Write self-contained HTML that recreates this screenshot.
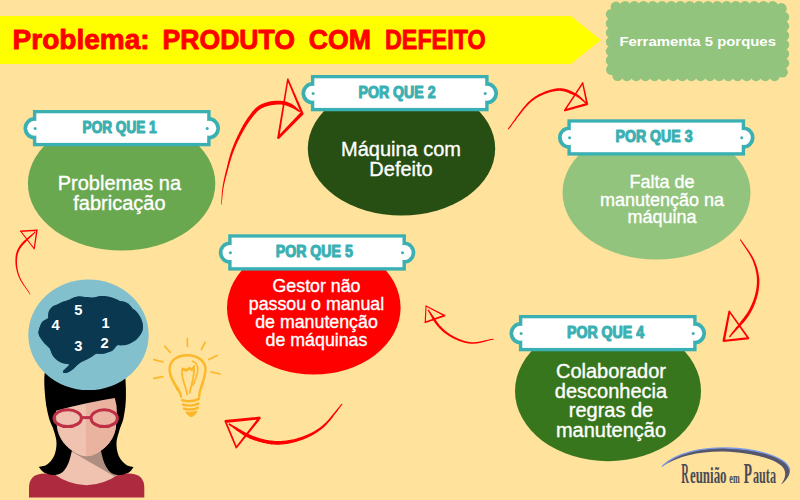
<!DOCTYPE html>
<html lang="pt-BR">
<head>
<meta charset="utf-8">
<title>Ferramenta 5 porques</title>
<style>
html,body{margin:0;padding:0;background:#ffe29b;}
body{width:800px;height:500px;overflow:hidden;position:relative;font-family:"Liberation Sans",sans-serif;}
svg{position:absolute;left:0;top:0;display:block}
.t{font-family:"Liberation Sans",sans-serif;fill:#fff;stroke:#fff;stroke-width:0.35px;text-anchor:middle}
.lab{font-family:"Liberation Sans",sans-serif;font-weight:bold;fill:#3bb0b3;stroke:#3bb0b3;stroke-width:1.1px;stroke-linejoin:round;text-anchor:middle;font-size:16px}
.ttl{font-family:"Liberation Sans",sans-serif;font-weight:bold;fill:#ff0000;stroke:#ff0000;stroke-width:0.9px;stroke-linejoin:round;font-size:28px}
.num{font-family:"Liberation Sans",sans-serif;font-weight:bold;fill:#fff;font-size:14.7px;text-anchor:middle}
</style>
</head>
<body>
<svg width="800" height="500" viewBox="0 0 800 500">
<defs>
  <g id="label">
    <!-- label 196 wide x 36 tall, origin at top-left of bounding box -->
    <circle cx="11.2" cy="18.3" r="11.2" fill="#3bb0b3"/>
    <circle cx="185.3" cy="18.3" r="11.2" fill="#3bb0b3"/>
    <rect x="9.4" y="0" width="177.7" height="36.3" fill="#3bb0b3"/>
    <circle cx="11.2" cy="18.3" r="7.5" fill="#fff"/>
    <circle cx="185.3" cy="18.3" r="7.5" fill="#fff"/>
    <rect x="12.8" y="3.3" width="170.9" height="29.6" fill="#fff"/>
    <circle cx="11.6" cy="18.4" r="1.5" fill="#3bb0b3"/>
    <circle cx="183.7" cy="18.4" r="1.5" fill="#3bb0b3"/>
  </g>
</defs>
<rect width="800" height="500" fill="#ffe29b"/>

<!-- banner -->
<polygon points="0,16 571,16 601,40 571,64 0,64" fill="#ffff00"/>
<text class="ttl" y="49"><tspan x="12.6" textLength="137" lengthAdjust="spacingAndGlyphs">Problema:</tspan><tspan font-size="4px" stroke="none"> </tspan><tspan x="162.5" textLength="132.5" lengthAdjust="spacingAndGlyphs">PRODUTO</tspan><tspan font-size="4px" stroke="none"> </tspan><tspan x="308.8" textLength="62.2" lengthAdjust="spacingAndGlyphs">COM</tspan><tspan font-size="4px" stroke="none"> </tspan><tspan x="385" textLength="100.6" lengthAdjust="spacingAndGlyphs">DEFEITO</tspan></text>

<!-- scalloped box -->
<g fill="#93c47d">
<path d="M611.2,14.3 L611.3,13.3 L611.5,12.2 L611.8,11.2 L612.3,10.3 L612.9,9.4 L613.5,8.6 L614.3,8.0 L615.2,7.4 L616.1,6.9 L617.1,6.6 L618.2,6.4 L619.2,6.3 L621.8,6.3 L624.4,6.3 L627.0,6.3 L629.6,6.3 L632.2,6.3 L634.9,6.3 L637.5,6.3 L640.1,6.3 L642.7,6.3 L645.3,6.3 L647.9,6.3 L650.5,6.3 L653.1,6.3 L655.7,6.3 L658.4,6.3 L661.0,6.3 L663.6,6.3 L666.2,6.3 L668.8,6.3 L671.4,6.3 L674.0,6.3 L676.6,6.3 L679.2,6.3 L681.8,6.3 L684.5,6.3 L687.1,6.3 L689.7,6.3 L692.3,6.3 L694.9,6.3 L697.5,6.3 L700.1,6.3 L702.7,6.3 L705.3,6.3 L707.9,6.3 L710.5,6.3 L713.2,6.3 L715.8,6.3 L718.4,6.3 L721.0,6.3 L723.6,6.3 L726.2,6.3 L728.8,6.3 L731.4,6.3 L734.0,6.3 L736.6,6.3 L739.3,6.3 L741.9,6.3 L744.5,6.3 L747.1,6.3 L749.7,6.3 L752.3,6.3 L754.9,6.3 L757.5,6.3 L760.1,6.3 L762.8,6.3 L765.4,6.3 L768.0,6.3 L770.6,6.3 L773.2,6.3 L775.8,6.3 L776.8,6.4 L777.9,6.6 L778.9,6.9 L779.8,7.4 L780.7,8.0 L781.5,8.6 L782.1,9.4 L782.7,10.3 L783.2,11.2 L783.5,12.2 L783.7,13.3 L783.8,14.3 L783.8,15.2 L783.8,16.1 L783.8,17.0 L783.8,17.9 L783.8,18.8 L783.8,19.6 L783.8,20.5 L783.8,21.4 L783.8,22.3 L783.8,23.2 L783.8,24.1 L783.8,25.0 L783.8,25.9 L783.8,26.8 L783.8,27.7 L783.8,28.6 L783.8,29.5 L783.8,30.4 L783.8,31.2 L783.8,32.1 L783.8,33.0 L783.8,33.9 L783.8,34.8 L783.8,35.7 L783.8,36.6 L783.8,37.5 L783.8,38.4 L783.8,39.3 L783.8,40.2 L783.8,41.0 L783.8,41.9 L783.8,42.8 L783.8,43.7 L783.8,44.6 L783.8,45.5 L783.8,46.4 L783.8,47.3 L783.8,48.2 L783.8,49.1 L783.8,50.0 L783.8,50.9 L783.8,51.8 L783.8,52.6 L783.8,53.5 L783.8,54.4 L783.8,55.3 L783.8,56.2 L783.8,57.1 L783.8,58.0 L783.8,58.9 L783.8,59.8 L783.8,60.7 L783.8,61.6 L783.8,62.5 L783.8,63.3 L783.8,64.2 L783.8,65.1 L783.8,66.0 L783.8,66.9 L783.8,67.8 L783.7,68.8 L783.5,69.9 L783.2,70.9 L782.7,71.8 L782.1,72.7 L781.5,73.5 L780.7,74.1 L779.8,74.7 L778.9,75.2 L777.9,75.5 L776.8,75.7 L775.8,75.8 L773.2,75.8 L770.6,75.8 L768.0,75.8 L765.4,75.8 L762.8,75.8 L760.1,75.8 L757.5,75.8 L754.9,75.8 L752.3,75.8 L749.7,75.8 L747.1,75.8 L744.5,75.8 L741.9,75.8 L739.3,75.8 L736.6,75.8 L734.0,75.8 L731.4,75.8 L728.8,75.8 L726.2,75.8 L723.6,75.8 L721.0,75.8 L718.4,75.8 L715.8,75.8 L713.2,75.8 L710.5,75.8 L707.9,75.8 L705.3,75.8 L702.7,75.8 L700.1,75.8 L697.5,75.8 L694.9,75.8 L692.3,75.8 L689.7,75.8 L687.1,75.8 L684.5,75.8 L681.8,75.8 L679.2,75.8 L676.6,75.8 L674.0,75.8 L671.4,75.8 L668.8,75.8 L666.2,75.8 L663.6,75.8 L661.0,75.8 L658.4,75.8 L655.7,75.8 L653.1,75.8 L650.5,75.8 L647.9,75.8 L645.3,75.8 L642.7,75.8 L640.1,75.8 L637.5,75.8 L634.9,75.8 L632.2,75.8 L629.6,75.8 L627.0,75.8 L624.4,75.8 L621.8,75.8 L619.2,75.8 L618.2,75.7 L617.1,75.5 L616.1,75.2 L615.2,74.7 L614.3,74.1 L613.5,73.5 L612.9,72.7 L612.3,71.8 L611.8,70.9 L611.5,69.9 L611.3,68.8 L611.2,67.8 L611.2,66.9 L611.2,66.0 L611.2,65.1 L611.2,64.2 L611.2,63.3 L611.2,62.4 L611.2,61.6 L611.2,60.7 L611.2,59.8 L611.2,58.9 L611.2,58.0 L611.2,57.1 L611.2,56.2 L611.2,55.3 L611.2,54.4 L611.2,53.5 L611.2,52.6 L611.2,51.8 L611.2,50.9 L611.2,50.0 L611.2,49.1 L611.2,48.2 L611.2,47.3 L611.2,46.4 L611.2,45.5 L611.2,44.6 L611.2,43.7 L611.2,42.8 L611.2,41.9 L611.2,41.0 L611.2,40.2 L611.2,39.3 L611.2,38.4 L611.2,37.5 L611.2,36.6 L611.2,35.7 L611.2,34.8 L611.2,33.9 L611.2,33.0 L611.2,32.1 L611.2,31.2 L611.2,30.3 L611.2,29.5 L611.2,28.6 L611.2,27.7 L611.2,26.8 L611.2,25.9 L611.2,25.0 L611.2,24.1 L611.2,23.2 L611.2,22.3 L611.2,21.4 L611.2,20.5 L611.2,19.6 L611.2,18.8 L611.2,17.9 L611.2,17.0 L611.2,16.1 L611.2,15.2Z"/>
<circle cx="611.2" cy="14.3" r="5.4"/>
<circle cx="616.0" cy="7.0" r="5.4"/>
<circle cx="625.1" cy="6.3" r="5.4"/>
<circle cx="634.3" cy="6.3" r="5.4"/>
<circle cx="643.5" cy="6.3" r="5.4"/>
<circle cx="652.8" cy="6.3" r="5.4"/>
<circle cx="662.0" cy="6.3" r="5.4"/>
<circle cx="671.2" cy="6.3" r="5.4"/>
<circle cx="680.4" cy="6.3" r="5.4"/>
<circle cx="689.7" cy="6.3" r="5.4"/>
<circle cx="698.9" cy="6.3" r="5.4"/>
<circle cx="708.1" cy="6.3" r="5.4"/>
<circle cx="717.3" cy="6.3" r="5.4"/>
<circle cx="726.6" cy="6.3" r="5.4"/>
<circle cx="735.8" cy="6.3" r="5.4"/>
<circle cx="745.0" cy="6.3" r="5.4"/>
<circle cx="754.2" cy="6.3" r="5.4"/>
<circle cx="763.5" cy="6.3" r="5.4"/>
<circle cx="772.7" cy="6.3" r="5.4"/>
<circle cx="781.3" cy="8.5" r="5.4"/>
<circle cx="783.8" cy="17.1" r="5.4"/>
<circle cx="783.8" cy="26.3" r="5.4"/>
<circle cx="783.8" cy="35.5" r="5.4"/>
<circle cx="783.8" cy="44.7" r="5.4"/>
<circle cx="783.8" cy="54.0" r="5.4"/>
<circle cx="783.8" cy="63.2" r="5.4"/>
<circle cx="782.5" cy="72.2" r="5.4"/>
<circle cx="774.5" cy="75.8" r="5.4"/>
<circle cx="765.3" cy="75.8" r="5.4"/>
<circle cx="756.1" cy="75.8" r="5.4"/>
<circle cx="746.8" cy="75.8" r="5.4"/>
<circle cx="737.6" cy="75.8" r="5.4"/>
<circle cx="728.4" cy="75.8" r="5.4"/>
<circle cx="719.2" cy="75.8" r="5.4"/>
<circle cx="710.0" cy="75.8" r="5.4"/>
<circle cx="700.7" cy="75.8" r="5.4"/>
<circle cx="691.5" cy="75.8" r="5.4"/>
<circle cx="682.3" cy="75.8" r="5.4"/>
<circle cx="673.1" cy="75.8" r="5.4"/>
<circle cx="663.8" cy="75.8" r="5.4"/>
<circle cx="654.6" cy="75.8" r="5.4"/>
<circle cx="645.4" cy="75.8" r="5.4"/>
<circle cx="636.2" cy="75.8" r="5.4"/>
<circle cx="626.9" cy="75.8" r="5.4"/>
<circle cx="617.7" cy="75.6" r="5.4"/>
<circle cx="611.4" cy="69.6" r="5.4"/>
<circle cx="611.2" cy="60.4" r="5.4"/>
<circle cx="611.2" cy="51.2" r="5.4"/>
<circle cx="611.2" cy="42.0" r="5.4"/>
<circle cx="611.2" cy="32.7" r="5.4"/>
<circle cx="611.2" cy="23.5" r="5.4"/>
</g>
<text x="697.7" y="46" font-family="Liberation Sans,sans-serif" font-weight="bold" font-size="13.5px" fill="#fff" text-anchor="middle" textLength="156.5" lengthAdjust="spacingAndGlyphs">Ferramenta 5 porques</text>

<!-- ellipses -->
<ellipse cx="121.6" cy="183.6" rx="93.7" ry="66.9" fill="#6aa84f"/>
<ellipse cx="401.5" cy="148.6" rx="93.7" ry="66.9" fill="#274e13"/>
<ellipse cx="656.5" cy="192.6" rx="94" ry="66.9" fill="#93c47d"/>
<ellipse cx="608" cy="391" rx="93" ry="70.2" fill="#38761d"/>
<ellipse cx="313.8" cy="307.7" rx="86.8" ry="66.9" fill="#ff0000"/>

<!-- labels -->
<use href="#label" x="23.5" y="110"/>
<use href="#label" x="301.5" y="75"/>
<use href="#label" x="558" y="119.3"/>
<use href="#label" x="509.5" y="315"/>
<use href="#label" x="218.8" y="234.3"/>
<text class="lab" x="119.6" y="133" textLength="74" lengthAdjust="spacingAndGlyphs">POR QUE 1</text>
<text class="lab" x="397" y="98" textLength="77" lengthAdjust="spacingAndGlyphs">POR QUE 2</text>
<text class="lab" x="654" y="142.3" textLength="77" lengthAdjust="spacingAndGlyphs">POR QUE 3</text>
<text class="lab" x="605.5" y="338" textLength="77" lengthAdjust="spacingAndGlyphs">POR QUE 4</text>
<text class="lab" x="314.3" y="257.3" textLength="77" lengthAdjust="spacingAndGlyphs">POR QUE 5</text>

<!-- arrows -->
<path d="M221.7,204.4 L221.8,203.7 L221.8,203.0 L221.9,202.3 L222.0,201.6 L222.0,200.9 L222.1,200.2 L222.2,199.6 L222.2,198.9 L222.3,198.2 L222.4,197.5 L222.4,196.8 L222.5,196.1 L222.5,195.4 L222.6,194.7 L222.7,194.0 L222.8,193.3 L222.8,192.6 L222.9,191.9 L223.0,191.2 L223.1,190.5 L223.2,189.8 L223.3,189.1 L223.4,188.4 L223.6,187.7 L223.7,187.0 L223.8,186.3 L224.0,185.6 L224.1,184.8 L224.3,184.1 L224.4,183.4 L224.6,182.7 L224.7,182.0 L224.9,181.3 L225.1,180.6 L225.2,179.8 L225.4,179.1 L225.6,178.4 L225.8,177.7 L226.0,176.9 L226.2,176.2 L226.4,175.5 L226.6,174.7 L226.8,174.0 L227.0,173.2 L227.2,172.5 L227.4,171.7 L227.6,171.0 L227.8,170.2 L228.0,169.4 L228.2,168.7 L228.4,167.9 L228.7,167.1 L228.9,166.3 L229.1,165.5 L229.3,164.7 L229.6,163.9 L229.8,163.1 L230.0,162.3 L230.3,161.5 L230.5,160.7 L230.7,159.9 L231.0,159.1 L231.2,158.3 L231.5,157.5 L231.7,156.7 L232.0,155.9 L232.3,155.1 L232.5,154.3 L232.8,153.5 L233.1,152.7 L233.4,152.0 L233.7,151.2 L234.0,150.4 L234.3,149.7 L234.6,148.9 L234.9,148.1 L235.2,147.4 L235.6,146.6 L235.9,145.9 L236.2,145.1 L236.6,144.3 L236.9,143.6 L237.3,142.8 L237.6,142.1 L238.0,141.3 L238.3,140.6 L238.7,139.9 L239.1,139.1 L239.4,138.4 L239.8,137.7 L240.1,137.0 L240.5,136.3 L240.8,135.6 L241.2,135.0 L241.5,134.3 L241.9,133.7 L242.2,133.0 L242.6,132.4 L242.9,131.8 L243.2,131.2 L243.6,130.6 L243.9,130.0 L244.2,129.4 L244.5,128.9 L244.9,128.3 L245.2,127.8 L245.5,127.2 L245.9,126.7 L246.2,126.2 L246.5,125.6 L246.9,125.1 L247.2,124.6 L247.5,124.1 L247.9,123.6 L248.2,123.1 L248.6,122.6 L248.9,122.1 L249.3,121.6 L249.6,121.1 L250.0,120.6 L250.4,120.1 L250.7,119.6 L251.1,119.1 L251.5,118.5 L251.9,118.0 L252.2,117.5 L252.6,117.0 L253.0,116.5 L253.4,116.0 L253.8,115.5 L254.2,115.1 L254.6,114.6 L255.0,114.1 L255.4,113.7 L255.8,113.2 L256.2,112.8 L256.6,112.4 L256.9,112.0 L257.3,111.6 L257.7,111.2 L258.1,110.8 L258.5,110.5 L258.9,110.2 L259.3,109.9 L259.7,109.6 L260.1,109.3 L260.5,109.0 L260.9,108.8 L261.4,108.5 L261.8,108.3 L262.2,108.1 L262.6,107.9 L263.0,107.7 L263.4,107.5 L263.9,107.3 L264.3,107.1 L264.8,107.0 L265.2,106.8 L265.6,106.6 L266.1,106.5 L266.5,106.4 L267.0,106.2 L267.5,106.1 L267.9,106.0 L268.4,105.9 L268.9,105.7 L269.4,105.6 L269.8,105.5 L270.3,105.4 L270.8,105.3 L271.3,105.2 L271.8,105.2 L272.3,105.1 L272.8,105.0 L273.4,104.9 L273.9,104.9 L274.4,104.8 L274.9,104.7 L275.5,104.7 L276.0,104.7 L276.6,104.6 L277.1,104.6 L277.6,104.6 L278.1,104.6 L278.6,104.6 L279.2,104.6 L279.7,104.6 L280.2,104.6 L280.6,104.6 L281.1,104.6 L281.6,104.6 L282.0,104.7 L282.4,104.7 L282.8,104.8 L283.2,104.8 L283.6,104.9 L284.0,105.0 L284.4,105.1 L284.8,105.2 L285.2,105.3 L285.6,105.4 L285.9,105.5 L286.3,105.6 L286.7,105.7 L287.0,105.9 L287.4,106.0 L287.8,106.1 L288.1,106.3 L288.5,106.4 L288.8,106.6 L289.2,106.8 L289.6,106.9 L289.9,107.1 L290.3,107.3 L290.6,107.4 L291.0,107.5 L291.4,107.7 L291.7,107.8 L292.1,108.0 L292.4,108.1 L292.8,108.3 L293.1,108.5 L293.4,108.7 L293.8,108.8 L294.1,109.0 L294.5,109.2 L294.8,109.4 L295.2,109.6 L295.5,109.8 L295.8,110.1 L296.2,110.3 L296.5,110.5 L296.9,110.7 L297.2,110.9 L297.6,111.1 L297.9,111.4 L298.3,111.6 L298.6,111.8 L299.0,112.0 L299.4,112.2 L300.2,111.0 L299.9,110.7 L299.6,110.5 L299.3,110.2 L299.0,109.9 L298.7,109.6 L298.4,109.4 L298.1,109.1 L297.9,108.8 L297.6,108.5 L297.3,108.2 L297.0,107.9 L296.6,107.7 L296.3,107.4 L296.0,107.1 L295.7,106.8 L295.4,106.5 L295.1,106.3 L294.7,106.0 L294.4,105.7 L294.0,105.5 L293.7,105.2 L293.3,104.9 L293.0,104.7 L292.6,104.5 L292.2,104.2 L291.9,104.0 L291.5,103.8 L291.1,103.6 L290.7,103.5 L290.3,103.3 L289.9,103.1 L289.6,102.9 L289.2,102.8 L288.8,102.6 L288.3,102.4 L287.9,102.3 L287.5,102.1 L287.1,102.0 L286.6,101.8 L286.2,101.7 L285.8,101.6 L285.3,101.4 L284.8,101.3 L284.4,101.2 L283.9,101.1 L283.4,101.1 L282.9,101.0 L282.4,100.9 L281.9,100.9 L281.4,100.8 L280.9,100.8 L280.3,100.7 L279.8,100.7 L279.2,100.7 L278.7,100.7 L278.1,100.7 L277.5,100.7 L276.9,100.7 L276.4,100.7 L275.8,100.7 L275.2,100.8 L274.6,100.8 L274.0,100.9 L273.4,100.9 L272.9,101.0 L272.3,101.0 L271.7,101.1 L271.2,101.2 L270.6,101.3 L270.0,101.4 L269.5,101.6 L269.0,101.7 L268.4,101.8 L267.9,101.9 L267.4,102.1 L266.9,102.2 L266.4,102.4 L265.9,102.5 L265.4,102.7 L264.9,102.8 L264.4,103.0 L263.9,103.2 L263.4,103.4 L262.9,103.6 L262.4,103.8 L261.9,104.0 L261.4,104.2 L260.9,104.5 L260.4,104.7 L259.9,105.0 L259.4,105.3 L259.0,105.6 L258.5,105.9 L258.0,106.2 L257.5,106.6 L257.1,106.9 L256.6,107.3 L256.1,107.7 L255.7,108.1 L255.2,108.5 L254.8,109.0 L254.4,109.4 L253.9,109.9 L253.5,110.4 L253.1,110.8 L252.6,111.3 L252.2,111.8 L251.8,112.3 L251.4,112.8 L251.0,113.4 L250.6,113.9 L250.2,114.4 L249.8,114.9 L249.5,115.5 L249.1,116.0 L248.7,116.5 L248.3,117.0 L247.9,117.6 L247.6,118.1 L247.2,118.6 L246.9,119.1 L246.5,119.7 L246.1,120.2 L245.8,120.7 L245.5,121.3 L245.1,121.8 L244.8,122.3 L244.4,122.9 L244.1,123.4 L243.8,124.0 L243.5,124.5 L243.1,125.1 L242.8,125.6 L242.5,126.2 L242.2,126.8 L241.9,127.4 L241.5,128.0 L241.2,128.6 L240.9,129.2 L240.6,129.8 L240.3,130.4 L240.0,131.0 L239.6,131.7 L239.3,132.3 L239.0,133.0 L238.7,133.7 L238.3,134.4 L238.0,135.1 L237.6,135.8 L237.3,136.5 L237.0,137.2 L236.6,138.0 L236.3,138.7 L235.9,139.5 L235.6,140.2 L235.3,141.0 L234.9,141.8 L234.6,142.5 L234.3,143.3 L233.9,144.1 L233.6,144.9 L233.3,145.7 L233.0,146.5 L232.7,147.3 L232.4,148.0 L232.1,148.8 L231.8,149.6 L231.5,150.4 L231.3,151.2 L231.0,152.0 L230.7,152.8 L230.5,153.6 L230.2,154.4 L230.0,155.2 L229.7,156.0 L229.5,156.9 L229.3,157.7 L229.0,158.5 L228.8,159.3 L228.6,160.1 L228.4,161.0 L228.2,161.8 L228.0,162.6 L227.8,163.4 L227.6,164.2 L227.4,165.0 L227.2,165.9 L227.0,166.7 L226.8,167.4 L226.6,168.2 L226.4,169.0 L226.2,169.8 L226.0,170.6 L225.8,171.3 L225.6,172.1 L225.5,172.8 L225.3,173.6 L225.1,174.3 L224.9,175.1 L224.7,175.8 L224.6,176.6 L224.4,177.3 L224.2,178.1 L224.1,178.8 L223.9,179.5 L223.8,180.3 L223.6,181.0 L223.5,181.7 L223.3,182.4 L223.2,183.2 L223.0,183.9 L222.9,184.6 L222.8,185.3 L222.7,186.1 L222.6,186.8 L222.4,187.5 L222.3,188.2 L222.3,189.0 L222.2,189.7 L222.1,190.4 L222.0,191.1 L221.9,191.8 L221.9,192.5 L221.8,193.2 L221.8,193.9 L221.7,194.6 L221.7,195.3 L221.6,196.0 L221.6,196.7 L221.5,197.4 L221.5,198.1 L221.5,198.8 L221.4,199.5 L221.4,200.2 L221.3,200.9 L221.3,201.6 L221.3,202.3 L221.2,203.0 L221.2,203.7 L221.1,204.4Z M286.8,79.1 L301.3,114.2 L303.5,113.3 L288.3,78.4Z M301.4,111.6 L276.8,137.5 L278.7,139.3 L303.8,114.0Z M279.1,138.8 L288.6,78.8 L287.2,78.6 L277.1,138.4Z" fill="#ff0000"/>
<path d="M508.4,129.6 L509.4,128.4 L510.4,127.2 L511.4,125.9 L512.3,124.6 L513.3,123.3 L514.3,122.0 L515.3,120.7 L516.3,119.4 L517.2,118.1 L518.2,116.8 L519.2,115.5 L520.2,114.2 L521.2,112.9 L522.1,111.7 L523.1,110.5 L524.1,109.3 L525.1,108.1 L526.1,107.0 L527.1,105.9 L528.0,104.9 L529.0,103.9 L530.0,102.9 L531.0,102.1 L532.0,101.2 L533.0,100.5 L534.0,99.7 L535.1,99.0 L536.1,98.3 L537.2,97.7 L538.3,97.1 L539.3,96.5 L540.4,96.0 L541.5,95.4 L542.6,95.0 L543.7,94.5 L544.8,94.1 L545.8,93.7 L546.9,93.3 L548.0,93.0 L549.0,92.6 L550.1,92.3 L551.1,92.1 L552.1,91.8 L553.1,91.6 L554.0,91.4 L555.0,91.2 L555.9,91.1 L556.8,91.0 L557.6,90.9 L558.4,90.8 L559.2,90.8 L560.0,90.8 L560.8,90.9 L561.6,91.0 L562.4,91.1 L563.1,91.2 L563.8,91.4 L564.6,91.6 L565.3,91.8 L566.0,92.0 L566.7,92.3 L567.4,92.6 L568.1,92.8 L568.8,93.1 L569.4,93.4 L570.1,93.7 L570.8,94.0 L571.5,94.3 L572.1,94.5 L572.8,94.8 L573.4,95.1 L574.1,95.3 L574.7,95.6 L575.2,95.8 L575.8,96.1 L576.3,96.4 L576.8,96.7 L577.3,97.0 L577.8,97.4 L578.3,97.7 L578.8,98.0 L579.3,98.4 L579.8,98.8 L580.2,99.1 L580.7,99.5 L581.1,99.9 L581.6,100.3 L582.1,100.7 L582.5,101.0 L583.0,101.4 L583.5,101.8 L583.9,102.2 L584.4,102.6 L584.9,103.0 L585.4,103.3 L585.9,103.7 L586.7,102.7 L586.2,102.3 L585.8,101.9 L585.4,101.5 L584.9,101.1 L584.5,100.7 L584.1,100.3 L583.6,99.8 L583.2,99.4 L582.8,99.0 L582.3,98.6 L581.9,98.1 L581.5,97.7 L581.0,97.3 L580.6,96.9 L580.1,96.5 L579.6,96.0 L579.1,95.6 L578.6,95.2 L578.1,94.8 L577.5,94.5 L577.0,94.1 L576.4,93.7 L575.8,93.4 L575.1,93.1 L574.5,92.8 L573.9,92.4 L573.3,92.1 L572.6,91.8 L572.0,91.4 L571.3,91.1 L570.6,90.8 L569.9,90.5 L569.2,90.2 L568.4,89.9 L567.7,89.6 L566.9,89.4 L566.1,89.1 L565.3,88.9 L564.5,88.7 L563.6,88.6 L562.8,88.4 L561.9,88.3 L561.0,88.2 L560.1,88.2 L559.2,88.2 L558.3,88.2 L557.4,88.3 L556.4,88.4 L555.5,88.6 L554.5,88.8 L553.5,89.0 L552.5,89.2 L551.5,89.5 L550.5,89.7 L549.4,90.0 L548.3,90.4 L547.2,90.7 L546.1,91.1 L545.0,91.5 L543.9,92.0 L542.8,92.4 L541.7,92.9 L540.6,93.5 L539.4,94.0 L538.3,94.6 L537.2,95.3 L536.1,95.9 L535.0,96.6 L534.0,97.4 L532.9,98.1 L531.8,98.9 L530.8,99.8 L529.8,100.7 L528.8,101.6 L527.8,102.6 L526.8,103.6 L525.8,104.7 L524.8,105.9 L523.8,107.0 L522.8,108.3 L521.9,109.5 L520.9,110.8 L520.0,112.0 L519.0,113.3 L518.0,114.7 L517.1,116.0 L516.1,117.3 L515.2,118.6 L514.3,120.0 L513.3,121.3 L512.4,122.6 L511.4,123.9 L510.5,125.2 L509.5,126.5 L508.6,127.8 L507.6,129.0Z M581.9,82.5 L586.4,104.8 L588.2,104.4 L583.2,82.3Z M587.4,102.7 L563.8,109.6 L564.4,111.5 L588.1,105.0Z M565.0,111.3 L583.6,82.9 L582.5,82.1 L563.7,110.5Z" fill="#ff0000"/>
<path d="M739.9,239.8 L740.4,240.7 L741.0,241.6 L741.6,242.6 L742.2,243.5 L742.8,244.4 L743.5,245.3 L744.1,246.3 L744.7,247.2 L745.3,248.1 L745.9,249.0 L746.6,249.9 L747.2,250.9 L747.8,251.8 L748.4,252.7 L748.9,253.6 L749.5,254.5 L750.0,255.5 L750.6,256.4 L751.1,257.3 L751.5,258.2 L752.0,259.2 L752.4,260.1 L752.8,261.0 L753.2,261.9 L753.5,262.9 L753.8,263.8 L754.1,264.8 L754.4,265.7 L754.7,266.6 L755.0,267.6 L755.3,268.5 L755.5,269.5 L755.7,270.4 L755.9,271.4 L756.1,272.3 L756.3,273.3 L756.4,274.2 L756.6,275.2 L756.7,276.1 L756.8,277.1 L756.8,278.0 L756.9,279.0 L756.9,280.0 L756.9,280.9 L756.9,281.9 L756.9,282.9 L756.8,283.9 L756.8,284.9 L756.7,285.9 L756.5,286.9 L756.4,288.0 L756.3,289.0 L756.1,290.0 L755.9,291.1 L755.7,292.1 L755.4,293.2 L755.2,294.2 L754.9,295.3 L754.6,296.4 L754.3,297.5 L753.9,298.5 L753.6,299.6 L753.2,300.7 L752.8,301.8 L752.3,302.8 L751.9,303.9 L751.4,305.0 L750.9,306.1 L750.4,307.1 L749.9,308.2 L749.3,309.3 L748.8,310.3 L748.1,311.4 L747.5,312.4 L746.8,313.5 L746.1,314.5 L745.3,315.6 L744.6,316.6 L743.7,317.7 L742.9,318.7 L742.1,319.8 L741.2,320.9 L740.4,322.0 L739.5,323.2 L738.6,324.3 L737.7,325.4 L736.8,326.5 L735.9,327.6 L735.0,328.7 L734.1,329.9 L733.2,331.0 L732.3,332.1 L731.4,333.2 L730.6,334.4 L729.7,335.5 L728.9,336.6 L729.9,337.4 L730.8,336.4 L731.7,335.3 L732.7,334.3 L733.6,333.2 L734.6,332.2 L735.6,331.1 L736.6,330.1 L737.6,329.0 L738.5,328.0 L739.5,327.0 L740.5,325.9 L741.5,324.8 L742.4,323.8 L743.4,322.7 L744.3,321.7 L745.2,320.6 L746.1,319.5 L746.9,318.4 L747.7,317.3 L748.5,316.2 L749.2,315.0 L749.9,313.9 L750.6,312.8 L751.2,311.7 L751.8,310.6 L752.4,309.5 L752.9,308.3 L753.5,307.2 L754.0,306.1 L754.4,305.0 L754.9,303.8 L755.3,302.7 L755.7,301.6 L756.1,300.5 L756.5,299.3 L756.8,298.2 L757.1,297.1 L757.4,296.0 L757.7,294.9 L758.0,293.8 L758.2,292.7 L758.4,291.6 L758.6,290.5 L758.8,289.4 L758.9,288.3 L759.0,287.2 L759.1,286.2 L759.2,285.1 L759.3,284.0 L759.3,283.0 L759.4,282.0 L759.4,280.9 L759.3,279.9 L759.3,278.9 L759.2,277.9 L759.1,276.8 L758.9,275.8 L758.8,274.8 L758.6,273.8 L758.4,272.9 L758.2,271.9 L758.0,270.9 L757.8,269.9 L757.5,268.9 L757.2,268.0 L756.9,267.0 L756.6,266.0 L756.3,265.1 L756.0,264.1 L755.6,263.2 L755.2,262.2 L754.8,261.3 L754.4,260.3 L754.0,259.3 L753.5,258.4 L753.0,257.4 L752.5,256.5 L752.0,255.6 L751.4,254.7 L750.8,253.7 L750.2,252.8 L749.6,251.9 L749.0,251.0 L748.3,250.1 L747.7,249.2 L747.1,248.3 L746.4,247.4 L745.8,246.5 L745.1,245.6 L744.4,244.6 L743.8,243.7 L743.2,242.8 L742.5,241.9 L741.9,241.0 L741.3,240.1 L740.7,239.2Z M728.5,311.4 L748.0,339.3 L749.5,338.3 L729.6,310.6Z M748.9,337.1 L723.0,340.1 L723.2,341.9 L749.1,339.3Z M724.8,341.7 L730.5,311.1 L728.5,310.7 L722.4,341.3Z" fill="#ff0000"/>
<path d="M493.5,338.5 L492.6,338.7 L491.7,338.9 L490.8,339.0 L489.8,339.2 L488.9,339.5 L488.0,339.7 L487.1,339.9 L486.1,340.1 L485.2,340.3 L484.3,340.5 L483.3,340.8 L482.4,341.0 L481.5,341.2 L480.6,341.3 L479.7,341.5 L478.8,341.7 L477.9,341.8 L477.0,342.0 L476.2,342.1 L475.3,342.1 L474.5,342.2 L473.6,342.2 L472.8,342.2 L472.0,342.2 L471.2,342.2 L470.4,342.1 L469.6,342.0 L468.9,341.9 L468.1,341.8 L467.3,341.6 L466.6,341.4 L465.8,341.3 L465.0,341.1 L464.3,340.8 L463.6,340.6 L462.8,340.4 L462.1,340.1 L461.4,339.8 L460.7,339.6 L459.9,339.3 L459.2,339.0 L458.5,338.7 L457.8,338.4 L457.2,338.0 L456.5,337.7 L455.8,337.4 L455.1,337.0 L454.5,336.7 L453.8,336.4 L453.1,336.0 L452.5,335.7 L451.9,335.3 L451.2,334.9 L450.6,334.5 L450.0,334.2 L449.4,333.8 L448.8,333.3 L448.2,332.9 L447.6,332.5 L447.0,332.1 L446.5,331.6 L445.9,331.2 L445.3,330.7 L444.8,330.2 L444.2,329.7 L443.7,329.2 L443.1,328.7 L442.6,328.2 L442.0,327.7 L441.5,327.1 L441.0,326.6 L440.4,326.0 L439.9,325.5 L439.4,324.9 L438.9,324.2 L438.4,323.6 L437.9,323.0 L437.5,322.3 L437.0,321.6 L436.5,320.9 L436.0,320.2 L435.6,319.5 L435.1,318.8 L434.6,318.0 L434.1,317.3 L433.6,316.6 L433.1,315.9 L432.6,315.1 L432.1,314.4 L431.6,313.7 L431.1,312.9 L430.6,312.2 L430.0,311.5 L429.5,310.8 L429.0,310.1 L428.5,309.4 L427.5,310.0 L427.9,310.8 L428.4,311.5 L428.8,312.3 L429.2,313.0 L429.7,313.8 L430.1,314.6 L430.5,315.4 L431.0,316.1 L431.4,316.9 L431.8,317.7 L432.2,318.5 L432.7,319.2 L433.1,320.0 L433.6,320.8 L434.1,321.5 L434.5,322.2 L435.0,322.9 L435.6,323.7 L436.1,324.3 L436.6,325.0 L437.1,325.7 L437.7,326.3 L438.2,327.0 L438.8,327.6 L439.3,328.2 L439.9,328.7 L440.5,329.3 L441.0,329.8 L441.6,330.4 L442.2,330.9 L442.8,331.4 L443.4,331.9 L443.9,332.4 L444.5,332.9 L445.1,333.3 L445.8,333.8 L446.4,334.2 L447.0,334.7 L447.6,335.1 L448.3,335.5 L448.9,335.9 L449.5,336.3 L450.2,336.7 L450.8,337.1 L451.5,337.4 L452.2,337.8 L452.9,338.2 L453.5,338.5 L454.2,338.8 L454.9,339.2 L455.6,339.5 L456.3,339.8 L457.1,340.1 L457.8,340.4 L458.5,340.7 L459.3,341.0 L460.0,341.3 L460.7,341.6 L461.5,341.8 L462.3,342.1 L463.0,342.3 L463.8,342.5 L464.6,342.7 L465.4,342.9 L466.2,343.1 L467.0,343.3 L467.8,343.4 L468.6,343.5 L469.5,343.6 L470.3,343.7 L471.1,343.7 L472.0,343.8 L472.8,343.8 L473.7,343.8 L474.6,343.7 L475.5,343.6 L476.4,343.5 L477.2,343.4 L478.2,343.2 L479.1,343.0 L480.0,342.9 L480.9,342.7 L481.8,342.4 L482.7,342.2 L483.6,342.0 L484.6,341.7 L485.5,341.5 L486.4,341.3 L487.3,341.0 L488.3,340.8 L489.2,340.5 L490.1,340.3 L491.0,340.1 L491.9,339.9 L492.8,339.7 L493.7,339.5Z M425.2,306.3 L444.8,316.5 L445.5,315.3 L425.7,305.2Z M444.9,314.6 L424.4,321.8 L424.9,323.2 L445.4,316.2Z M425.8,322.9 L426.6,305.4 L425.5,305.4 L424.6,322.9Z" fill="#ff0000"/>
<path d="M341.8,403.7 L341.0,404.6 L340.1,405.6 L339.3,406.6 L338.5,407.6 L337.6,408.6 L336.8,409.6 L336.0,410.6 L335.2,411.6 L334.4,412.6 L333.5,413.6 L332.7,414.6 L331.9,415.6 L331.1,416.6 L330.2,417.6 L329.4,418.5 L328.6,419.5 L327.7,420.4 L326.9,421.3 L326.1,422.2 L325.2,423.0 L324.4,423.8 L323.5,424.6 L322.7,425.3 L321.8,426.0 L320.9,426.7 L320.0,427.4 L319.1,428.0 L318.2,428.7 L317.3,429.3 L316.4,429.8 L315.5,430.4 L314.6,430.9 L313.7,431.5 L312.8,432.0 L311.8,432.5 L310.9,432.9 L310.0,433.4 L309.0,433.8 L308.1,434.3 L307.2,434.7 L306.2,435.1 L305.3,435.5 L304.3,435.8 L303.4,436.2 L302.4,436.6 L301.4,436.9 L300.5,437.2 L299.5,437.5 L298.5,437.8 L297.6,438.1 L296.6,438.4 L295.6,438.7 L294.6,438.9 L293.6,439.2 L292.6,439.4 L291.6,439.6 L290.6,439.8 L289.6,440.0 L288.6,440.1 L287.6,440.3 L286.6,440.4 L285.6,440.5 L284.6,440.7 L283.6,440.7 L282.6,440.8 L281.6,440.9 L280.6,440.9 L279.6,440.9 L278.6,441.0 L277.6,440.9 L276.7,440.9 L275.7,440.9 L274.7,440.9 L273.7,440.8 L272.7,440.7 L271.7,440.6 L270.7,440.5 L269.7,440.4 L268.7,440.2 L267.8,440.1 L266.8,439.9 L265.8,439.7 L264.8,439.5 L263.8,439.3 L262.8,439.0 L261.8,438.8 L260.8,438.5 L259.8,438.2 L258.8,437.9 L257.8,437.6 L256.8,437.3 L255.8,437.0 L254.9,436.6 L253.9,436.3 L252.9,435.9 L252.0,435.5 L251.0,435.1 L250.1,434.7 L249.2,434.3 L248.3,433.8 L247.3,433.4 L246.4,432.9 L245.5,432.4 L244.5,431.9 L243.6,431.4 L242.6,430.9 L241.7,430.4 L240.7,429.8 L239.8,429.3 L238.8,428.7 L237.9,428.2 L236.9,427.6 L236.0,427.1 L235.0,426.5 L234.0,426.0 L233.1,425.4 L232.1,424.9 L231.1,424.3 L230.2,423.8 L229.2,423.3 L228.4,424.7 L229.3,425.3 L230.2,425.9 L231.1,426.5 L232.0,427.1 L232.9,427.8 L233.8,428.4 L234.7,429.1 L235.6,429.7 L236.4,430.4 L237.3,431.0 L238.2,431.7 L239.2,432.3 L240.1,433.0 L241.0,433.6 L241.9,434.2 L242.8,434.8 L243.7,435.4 L244.7,436.0 L245.7,436.5 L246.6,437.1 L247.6,437.5 L248.6,438.0 L249.6,438.5 L250.6,438.9 L251.6,439.3 L252.6,439.7 L253.6,440.0 L254.6,440.4 L255.7,440.8 L256.7,441.1 L257.7,441.4 L258.7,441.7 L259.8,442.0 L260.8,442.3 L261.9,442.6 L262.9,442.9 L263.9,443.1 L265.0,443.3 L266.0,443.6 L267.1,443.8 L268.2,443.9 L269.2,444.1 L270.3,444.2 L271.3,444.4 L272.4,444.5 L273.4,444.6 L274.5,444.6 L275.5,444.7 L276.6,444.7 L277.6,444.7 L278.7,444.7 L279.7,444.7 L280.8,444.6 L281.9,444.5 L282.9,444.4 L284.0,444.3 L285.0,444.2 L286.1,444.1 L287.1,443.9 L288.2,443.7 L289.2,443.5 L290.3,443.3 L291.3,443.1 L292.4,442.9 L293.4,442.6 L294.4,442.3 L295.5,442.1 L296.5,441.8 L297.5,441.5 L298.5,441.1 L299.5,440.8 L300.5,440.5 L301.5,440.1 L302.5,439.7 L303.4,439.4 L304.4,439.0 L305.4,438.6 L306.4,438.2 L307.4,437.7 L308.3,437.3 L309.3,436.8 L310.3,436.3 L311.2,435.9 L312.2,435.3 L313.1,434.8 L314.1,434.3 L315.0,433.7 L315.9,433.1 L316.9,432.5 L317.8,431.9 L318.7,431.3 L319.6,430.6 L320.5,429.9 L321.4,429.2 L322.3,428.5 L323.2,427.8 L324.1,427.0 L325.0,426.2 L325.8,425.3 L326.7,424.4 L327.5,423.5 L328.3,422.6 L329.2,421.6 L330.0,420.7 L330.8,419.7 L331.6,418.7 L332.4,417.7 L333.2,416.6 L333.9,415.6 L334.7,414.6 L335.5,413.5 L336.3,412.5 L337.1,411.4 L337.9,410.4 L338.6,409.3 L339.4,408.3 L340.2,407.3 L341.0,406.3 L341.8,405.3 L342.6,404.3Z M224.9,422.9 L260.4,419.2 L260.2,416.6 L224.7,419.9Z M259.1,416.8 L235.2,447.4 L236.6,448.5 L261.0,418.3Z M237.3,447.7 L226.0,420.4 L224.3,421.1 L235.8,448.4Z" fill="#ff0000"/>
<path d="M30.5,294.0 L30.0,293.4 L29.6,292.7 L29.1,292.0 L28.7,291.3 L28.2,290.6 L27.7,289.9 L27.3,289.3 L26.8,288.6 L26.3,287.9 L25.9,287.2 L25.4,286.5 L24.9,285.9 L24.5,285.2 L24.0,284.5 L23.6,283.8 L23.2,283.1 L22.8,282.5 L22.4,281.8 L22.0,281.1 L21.6,280.4 L21.2,279.8 L20.9,279.1 L20.6,278.4 L20.3,277.8 L20.0,277.1 L19.8,276.4 L19.5,275.8 L19.3,275.1 L19.1,274.4 L18.8,273.7 L18.6,273.0 L18.4,272.4 L18.3,271.7 L18.1,271.0 L17.9,270.3 L17.8,269.6 L17.7,269.0 L17.5,268.3 L17.4,267.6 L17.3,267.0 L17.2,266.3 L17.2,265.6 L17.1,265.0 L17.1,264.3 L17.0,263.7 L17.0,263.1 L17.0,262.4 L17.0,261.8 L17.0,261.2 L17.0,260.6 L17.0,259.9 L17.1,259.3 L17.1,258.7 L17.2,258.2 L17.2,257.6 L17.3,257.0 L17.4,256.4 L17.5,255.9 L17.6,255.3 L17.7,254.7 L17.8,254.2 L18.0,253.6 L18.2,253.1 L18.3,252.5 L18.6,251.9 L18.8,251.4 L19.0,250.8 L19.3,250.3 L19.6,249.7 L19.9,249.1 L20.3,248.5 L20.6,247.9 L21.0,247.4 L21.5,246.8 L22.0,246.2 L22.5,245.6 L23.0,245.0 L23.6,244.3 L24.2,243.7 L24.8,243.1 L25.4,242.5 L26.1,241.8 L26.7,241.1 L27.4,240.5 L28.1,239.8 L28.7,239.1 L29.4,238.5 L30.1,237.8 L30.8,237.1 L31.5,236.4 L32.2,235.7 L32.9,235.1 L33.5,234.4 L34.2,233.7 L34.8,233.0 L35.5,232.4 L34.7,231.6 L34.1,232.3 L33.4,232.9 L32.7,233.5 L32.0,234.1 L31.2,234.7 L30.5,235.3 L29.8,235.9 L29.0,236.6 L28.3,237.2 L27.5,237.8 L26.8,238.4 L26.1,239.1 L25.3,239.7 L24.6,240.3 L23.9,240.9 L23.3,241.6 L22.6,242.2 L22.0,242.9 L21.4,243.6 L20.9,244.2 L20.3,244.9 L19.8,245.5 L19.4,246.2 L19.0,246.9 L18.6,247.5 L18.2,248.2 L17.9,248.8 L17.6,249.4 L17.3,250.0 L17.0,250.7 L16.8,251.3 L16.6,251.9 L16.4,252.5 L16.2,253.1 L16.1,253.7 L15.9,254.4 L15.8,255.0 L15.7,255.6 L15.6,256.2 L15.6,256.8 L15.5,257.4 L15.5,258.0 L15.4,258.7 L15.4,259.3 L15.4,259.9 L15.4,260.5 L15.4,261.2 L15.4,261.8 L15.4,262.5 L15.5,263.1 L15.5,263.8 L15.5,264.5 L15.6,265.1 L15.7,265.8 L15.8,266.5 L15.9,267.2 L16.0,267.9 L16.2,268.6 L16.3,269.2 L16.5,269.9 L16.6,270.6 L16.8,271.3 L17.0,272.0 L17.2,272.7 L17.4,273.4 L17.7,274.1 L17.9,274.8 L18.2,275.5 L18.4,276.2 L18.7,276.9 L19.0,277.5 L19.3,278.2 L19.6,278.9 L19.9,279.6 L20.3,280.3 L20.7,281.0 L21.1,281.6 L21.5,282.3 L21.9,283.0 L22.4,283.7 L22.8,284.3 L23.3,285.0 L23.7,285.7 L24.2,286.3 L24.7,287.0 L25.2,287.7 L25.7,288.4 L26.2,289.0 L26.7,289.7 L27.1,290.4 L27.6,291.0 L28.1,291.7 L28.6,292.4 L29.0,293.0 L29.5,293.7 L29.9,294.4Z M20.1,231.9 L37.5,231.0 L37.5,229.6 L20.1,230.5Z M36.3,229.6 L33.5,249.3 L34.7,249.5 L37.7,229.8Z M35.0,248.9 L20.8,230.4 L19.9,231.1 L34.1,249.6Z" fill="#ff0000"/>

<!-- ellipse texts -->
<g class="t" font-size="20px">
<text x="119.4" y="189.8">Problemas na</text>
<text x="119.4" y="209.5">fabricação</text>
<text x="401" y="156">Máquina com</text>
<text x="401" y="175.7">Defeito</text>
<text x="611" y="378">Colaborador</text>
<text x="611" y="397.7">desconhecia</text>
<text x="611" y="417.4">regras de</text>
<text x="611" y="437.1">manutenção</text>
</g>
<g class="t" font-size="18px">
<text x="662" y="188">Falta de</text>
<text x="662" y="205.6">manutenção na</text>
<text x="662" y="223.2">máquina</text>
</g>
<g class="t" font-size="17.8px">
<text x="316.5" y="292.3">Gestor não</text>
<text x="316.5" y="310.2">passou o manual</text>
<text x="316.5" y="328.1">de manutenção</text>
<text x="316.5" y="346">de máquinas</text>
</g>

<g id="person">
<path d="M29,497.6 L29,488 Q29,473.6 45,473.6 L128.5,473.6 Q144.3,473.6 144.3,488 L144.3,497.6 Z" fill="#ae2a3e"/>
<clipPath id="neckclip"><path d="M66,440 L107,440 L107,462 L120,473.6 Q86.4,497 53,473.6 L66,462 Z"/></clipPath>
<path d="M66,440 L107,440 L107,462 L120,473.6 Q86.4,497 53,473.6 L66,462 Z" fill="#f0c3b0"/>
<polygon points="68,449.5 118,478.5 118,445" fill="#ae8e80" clip-path="url(#neckclip)"/>
<path d="M52.0,360.0 L51.4,360.8 L50.8,361.6 L50.2,362.3 L49.6,363.1 L49.0,363.9 L48.5,364.7 L47.9,365.5 L47.4,366.3 L46.9,367.1 L46.5,368.0 L46.1,368.9 L45.8,369.7 L45.5,370.5 L45.2,371.3 L45.0,372.1 L44.8,373.0 L44.6,374.1 L44.5,375.2 L44.4,376.5 L44.3,378.0 L44.3,379.7 L44.3,381.7 L44.3,383.8 L44.4,386.1 L44.5,388.5 L44.7,390.9 L44.9,393.3 L45.1,395.7 L45.3,397.9 L45.5,400.0 L45.8,402.0 L46.0,404.0 L46.3,405.9 L46.7,407.8 L47.0,409.6 L47.4,411.4 L47.8,413.2 L48.2,414.8 L48.6,416.5 L49.0,418.0 L49.4,419.4 L49.9,420.8 L50.4,422.0 L50.8,423.2 L51.3,424.3 L51.8,425.4 L52.3,426.5 L52.8,427.6 L53.2,428.8 L53.6,430.0 L54.0,431.3 L54.4,432.5 L54.8,433.8 L55.1,435.1 L55.5,436.4 L55.8,437.8 L56.1,439.1 L56.3,440.4 L56.4,441.7 L56.5,443.0 L56.5,444.3 L56.4,445.7 L56.3,447.0 L56.1,448.4 L55.9,449.8 L55.6,451.1 L55.3,452.4 L54.9,453.7 L54.5,454.9 L54.0,456.0 L53.5,457.1 L52.9,458.1 L52.3,459.1 L51.6,460.0 L50.9,460.9 L50.1,461.7 L49.3,462.5 L48.6,463.3 L47.8,463.9 L47.0,464.5 L46.2,465.0 L45.4,465.4 L44.6,465.7 L43.8,465.9 L42.9,466.1 L42.1,466.3 L41.2,466.4 L40.4,466.6 L39.5,466.8 L38.7,467.0 L38.7,467.0 L39.2,467.6 L39.7,468.1 L40.2,468.7 L40.6,469.3 L41.1,469.9 L41.6,470.5 L42.1,471.1 L42.7,471.6 L43.3,472.1 L44.0,472.5 L44.8,472.9 L45.7,473.3 L46.6,473.6 L47.6,474.0 L48.6,474.2 L49.6,474.5 L50.7,474.7 L51.7,474.9 L52.7,475.0 L53.6,475.0 L54.5,475.0 L55.4,474.9 L56.3,474.8 L57.2,474.6 L58.0,474.4 L58.9,474.2 L59.7,473.8 L60.5,473.5 L61.3,473.0 L62.0,472.5 L62.7,471.9 L63.4,471.2 L64.1,470.5 L64.7,469.7 L65.3,468.8 L65.9,467.9 L66.5,467.0 L67.0,466.0 L67.5,465.0 L68.0,464.0 L68.5,462.9 L68.9,461.8 L69.3,460.7 L69.7,459.5 L70.0,458.2 L70.4,457.0 L70.7,455.7 L71.0,454.5 L71.3,453.2 L71.6,452.0 L71.9,450.8 L72.2,449.6 L72.4,448.4 L72.6,447.2 L72.9,446.0 L73.1,444.8 L73.3,443.6 L73.5,442.4 L73.8,441.2 L74.0,440.0 L86.4,440 L86.4,360 Z" fill="#000"/>
<path d="M118.0,360.0 L118.6,360.8 L119.2,361.6 L119.8,362.3 L120.4,363.1 L121.0,363.9 L121.6,364.7 L122.1,365.5 L122.6,366.3 L123.1,367.1 L123.5,368.0 L123.8,368.9 L124.1,369.7 L124.4,370.5 L124.6,371.3 L124.8,372.1 L124.9,373.0 L125.1,374.1 L125.2,375.2 L125.3,376.5 L125.4,378.0 L125.5,379.7 L125.6,381.7 L125.7,383.8 L125.8,386.1 L125.9,388.5 L125.9,390.9 L125.9,393.3 L125.9,395.7 L125.9,397.9 L125.8,400.0 L125.7,402.0 L125.5,404.0 L125.4,405.9 L125.2,407.8 L124.9,409.6 L124.7,411.4 L124.4,413.2 L124.1,414.8 L123.8,416.5 L123.5,418.0 L123.2,419.4 L122.8,420.8 L122.4,422.0 L122.0,423.2 L121.5,424.3 L121.1,425.4 L120.7,426.5 L120.3,427.6 L119.9,428.8 L119.5,430.0 L119.1,431.3 L118.8,432.5 L118.4,433.8 L118.0,435.1 L117.6,436.4 L117.3,437.8 L117.0,439.1 L116.7,440.4 L116.6,441.7 L116.5,443.0 L116.5,444.3 L116.5,445.7 L116.7,447.0 L116.8,448.4 L117.0,449.8 L117.3,451.1 L117.6,452.4 L118.0,453.7 L118.4,454.9 L118.8,456.0 L119.3,457.1 L119.9,458.1 L120.5,459.1 L121.2,460.0 L122.0,460.9 L122.7,461.7 L123.5,462.5 L124.3,463.2 L125.1,463.9 L125.8,464.5 L126.5,465.0 L127.3,465.4 L128.1,465.8 L128.8,466.0 L129.6,466.3 L130.4,466.5 L131.2,466.6 L131.9,466.8 L132.7,467.0 L133.5,467.3 L133.5,467.3 L133.1,467.8 L132.6,468.4 L132.2,468.9 L131.9,469.5 L131.5,470.1 L131.0,470.6 L130.6,471.1 L130.1,471.6 L129.5,472.1 L128.8,472.5 L128.0,472.9 L127.2,473.3 L126.2,473.6 L125.3,473.9 L124.2,474.2 L123.2,474.5 L122.1,474.7 L121.1,474.9 L120.1,475.0 L119.2,475.0 L118.3,475.0 L117.4,474.9 L116.5,474.8 L115.6,474.6 L114.8,474.4 L113.9,474.2 L113.1,473.8 L112.3,473.5 L111.5,473.0 L110.8,472.5 L110.1,471.9 L109.4,471.2 L108.7,470.5 L108.1,469.7 L107.5,468.8 L106.9,467.9 L106.3,467.0 L105.8,466.0 L105.3,465.0 L104.8,464.0 L104.3,462.9 L103.9,461.8 L103.5,460.7 L103.1,459.5 L102.8,458.2 L102.4,457.0 L102.1,455.7 L101.8,454.5 L101.5,453.2 L101.2,452.0 L100.9,450.8 L100.6,449.6 L100.4,448.4 L100.2,447.2 L99.9,446.0 L99.7,444.8 L99.5,443.6 L99.3,442.4 L99.0,441.2 L98.8,440.0 L86.4,440 L86.4,360 Z" fill="#000"/>
<path d="M56.0,396.0 L56.0,397.4 L56.0,398.9 L56.0,400.3 L56.0,401.8 L56.0,403.2 L56.0,404.7 L56.0,406.1 L56.0,407.5 L56.0,408.8 L56.0,410.0 L56.0,411.2 L56.0,412.2 L56.0,413.2 L56.0,414.2 L56.0,415.1 L56.1,416.0 L56.1,417.0 L56.1,417.9 L56.2,418.9 L56.3,420.0 L56.4,421.1 L56.5,422.3 L56.6,423.5 L56.7,424.8 L56.9,426.0 L57.0,427.2 L57.2,428.5 L57.4,429.7 L57.7,430.9 L58.0,432.0 L58.4,433.1 L58.7,434.2 L59.2,435.2 L59.6,436.2 L60.1,437.2 L60.6,438.2 L61.2,439.2 L61.8,440.2 L62.4,441.1 L63.0,442.0 L63.7,442.9 L64.4,443.8 L65.1,444.6 L65.9,445.5 L66.8,446.3 L67.6,447.1 L68.4,447.9 L69.3,448.6 L70.1,449.3 L71.0,450.0 L71.9,450.6 L72.8,451.3 L73.7,451.8 L74.7,452.4 L75.6,452.9 L76.5,453.4 L77.5,453.9 L78.4,454.3 L79.2,454.7 L80.0,455.0 L80.7,455.3 L81.4,455.5 L82.1,455.7 L82.7,455.8 L83.4,455.9 L84.0,456.0 L84.6,456.0 L85.2,456.1 L85.8,456.2 L86.4,456.3 L86.4,396 Z" fill="#f0c3b0"/>
<path d="M116.8,396.0 L116.8,397.4 L116.8,398.9 L116.8,400.3 L116.8,401.8 L116.8,403.2 L116.8,404.7 L116.8,406.1 L116.8,407.5 L116.8,408.8 L116.8,410.0 L116.8,411.2 L116.8,412.2 L116.8,413.2 L116.8,414.2 L116.8,415.1 L116.7,416.0 L116.7,417.0 L116.7,417.9 L116.6,418.9 L116.5,420.0 L116.4,421.1 L116.3,422.3 L116.2,423.5 L116.1,424.8 L115.9,426.0 L115.8,427.2 L115.6,428.5 L115.4,429.7 L115.1,430.9 L114.8,432.0 L114.4,433.1 L114.1,434.2 L113.6,435.2 L113.2,436.2 L112.7,437.2 L112.2,438.2 L111.6,439.2 L111.0,440.2 L110.4,441.1 L109.8,442.0 L109.1,442.9 L108.4,443.8 L107.7,444.6 L106.9,445.5 L106.1,446.3 L105.2,447.1 L104.4,447.9 L103.5,448.6 L102.7,449.3 L101.8,450.0 L100.9,450.6 L100.0,451.3 L99.1,451.8 L98.1,452.4 L97.2,452.9 L96.3,453.4 L95.3,453.9 L94.4,454.3 L93.6,454.7 L92.8,455.0 L92.1,455.3 L91.4,455.5 L90.7,455.7 L90.1,455.8 L89.4,455.9 L88.8,456.0 L88.2,456.0 L87.6,456.1 L87.0,456.2 L86.4,456.3 L85.80000000000001,456.3 L85.80000000000001,396 Z" fill="#f0c3b0"/>
<path d="M116.8,396.0 L116.8,397.4 L116.8,398.9 L116.8,400.3 L116.8,401.8 L116.8,403.2 L116.8,404.7 L116.8,406.1 L116.8,407.5 L116.8,408.8 L116.8,410.0 L116.8,411.2 L116.8,412.2 L116.8,413.2 L116.8,414.2 L116.8,415.1 L116.7,416.0 L116.7,417.0 L116.7,417.9 L116.6,418.9 L116.5,420.0 L116.4,421.1 L116.3,422.3 L116.2,423.5 L116.1,424.8 L115.9,426.0 L115.8,427.2 L115.6,428.5 L115.4,429.7 L115.1,430.9 L114.8,432.0 L114.4,433.1 L114.1,434.2 L113.6,435.2 L113.2,436.2 L112.7,437.2 L112.2,438.2 L111.6,439.2 L111.0,440.2 L110.4,441.1 L109.8,442.0 L109.1,442.9 L108.4,443.8 L107.7,444.6 L106.9,445.5 L106.1,446.3 L105.2,447.1 L104.4,447.9 L103.5,448.6 L102.7,449.3 L101.8,450.0 L100.9,450.6 L100.0,451.3 L99.1,451.8 L98.1,452.4 L97.2,452.9 L96.3,453.4 L95.3,453.9 L94.4,454.3 L93.6,454.7 L92.8,455.0 L92.1,455.3 L91.4,455.5 L90.7,455.7 L90.1,455.8 L89.4,455.9 L88.8,456.0 L88.2,456.0 L87.6,456.1 L87.0,456.2 L86.4,456.3 L85.80000000000001,456.3 L85.80000000000001,396 Z" fill="#e9b3a0"/>
<path d="M50,380 L123,380 L123,420 L117.2,420 L116.6,406 L114.8,398 Q86,402.5 56,410.7 L56,420 L50,420 Z" fill="#000"/>
<ellipse cx="67.7" cy="418.2" rx="13.7" ry="8.4" fill="#f1bfb2" fill-opacity="0.55" stroke="#bf2f45" stroke-width="3"/>
<ellipse cx="104.2" cy="418.2" rx="13.2" ry="8.4" fill="#efb6a8" fill-opacity="0.55" stroke="#bf2f45" stroke-width="3"/>
<path d="M82,417.6 L91,417.6" stroke="#bf2f45" stroke-width="3" fill="none"/>
</g>

<ellipse cx="88.5" cy="334.8" rx="60.2" ry="55.3" fill="#82c0ce"/>
<g fill="#0a3850">
<path d="M39.0,330.0 L39.3,328.8 L39.6,327.4 L40.1,326.0 L40.6,324.6 L41.2,323.2 L42.0,322.0 L43.0,321.0 L44.2,320.2 L45.6,319.5 L46.9,318.8 L48.1,318.0 L49.0,317.0 L49.5,315.8 L49.8,314.5 L49.9,313.1 L50.0,311.6 L50.3,310.3 L51.0,309.0 L52.1,307.8 L53.5,306.7 L55.1,305.7 L56.8,304.7 L58.5,303.8 L60.0,303.0 L61.4,302.3 L62.7,301.8 L63.9,301.3 L65.2,300.9 L66.6,300.5 L68.0,300.0 L69.5,299.4 L71.0,298.7 L72.6,298.1 L74.3,297.4 L76.1,296.9 L78.0,296.6 L80.1,296.5 L82.4,296.6 L84.9,296.9 L87.3,297.1 L89.7,297.3 L92.0,297.4 L94.1,297.2 L96.1,296.9 L98.1,296.6 L100.1,296.2 L102.0,296.0 L104.0,296.0 L106.0,296.2 L108.1,296.6 L110.1,297.0 L112.1,297.6 L114.1,298.3 L116.0,299.0 L117.8,299.8 L119.5,300.8 L121.1,301.8 L122.7,302.9 L124.4,304.0 L126.0,305.0 L127.7,306.0 L129.5,306.9 L131.2,307.8 L133.0,308.7 L134.6,309.8 L136.0,311.0 L137.3,312.4 L138.5,314.0 L139.6,315.8 L140.6,317.5 L141.4,319.3 L142.0,321.0 L142.4,322.7 L142.7,324.4 L142.8,326.1 L142.7,327.7 L142.4,329.4 L142.0,331.0 L141.4,332.6 L140.6,334.2 L139.6,335.8 L138.5,337.3 L137.3,338.7 L136.0,340.0 L134.5,341.1 L132.9,342.1 L131.1,343.1 L129.3,343.9 L127.6,344.5 L126.0,345.0 L124.5,345.2 L123.1,345.1 L121.8,344.9 L120.4,344.7 L119.2,344.7 L118.0,345.0 L116.9,345.7 L115.9,346.7 L115.0,347.9 L114.1,349.1 L113.1,350.2 L112.0,351.0 L110.8,351.6 L109.5,352.0 L108.1,352.3 L106.7,352.6 L105.4,352.8 L104.0,353.0 L102.7,353.2 L101.3,353.3 L100.0,353.3 L98.7,353.4 L97.3,353.6 L96.0,354.0 L94.7,354.6 L93.3,355.4 L92.0,356.3 L90.7,357.3 L89.3,358.2 L88.0,359.0 L86.7,359.7 L85.3,360.3 L83.9,360.9 L82.6,361.6 L81.3,362.2 L80.0,363.0 L78.8,363.9 L77.6,364.9 L76.4,366.0 L75.3,367.1 L74.2,368.1 L73.0,369.0 L71.8,369.8 L70.5,370.7 L69.2,371.5 L68.0,372.2 L66.9,372.7 L66.0,373.0 L65.2,373.1 L64.4,373.1 L63.7,372.9 L63.2,372.5 L62.9,372.0 L63.0,371.4 L63.6,370.6 L64.8,369.5 L66.2,368.3 L67.6,367.1 L68.6,365.9 L69.0,365.0 L68.6,364.3 L67.7,363.8 L66.4,363.4 L64.9,363.0 L63.4,362.6 L62.0,362.0 L60.7,361.3 L59.3,360.6 L57.8,359.8 L56.4,359.0 L55.1,358.0 L54.0,357.0 L53.1,355.8 L52.4,354.5 L51.9,353.1 L51.3,351.6 L50.7,350.3 L50.0,349.0 L49.1,347.9 L48.1,346.9 L47.1,346.0 L46.0,345.1 L45.0,344.1 L44.0,343.0 L43.1,341.7 L42.1,340.4 L41.1,338.9 L40.3,337.5 L39.5,336.2 L39.0,335.0 L38.7,334.0 L38.5,333.2 L38.5,332.5 L38.6,331.8 L38.8,331.0Z"/>
<ellipse cx="90" cy="327" rx="40" ry="24"/>
<circle cx="48" cy="332" r="9.6"/><circle cx="59" cy="315.5" r="11"/><circle cx="79" cy="310" r="13.6"/>
<circle cx="102" cy="310" r="14"/><circle cx="120" cy="315" r="14"/><circle cx="130" cy="327" r="13"/>
<circle cx="121" cy="335" r="10.5"/><circle cx="101" cy="338" r="16"/><circle cx="84" cy="344" r="15"/>
<circle cx="68" cy="346" r="18"/><circle cx="90" cy="328" r="22"/><circle cx="60" cy="330" r="14"/>
<path d="M84,356 L74,368.5 Q68,373.5 64,373 Q62,371.5 64,370 L70,364 L66,358 Z"/>
</g>
<g class="num">
<text x="78.4" y="314.6">5</text>
<text x="55.6" y="329.8">4</text>
<text x="105.6" y="328.2">1</text>
<text x="78.4" y="350.6">3</text>
<text x="104.6" y="348.4">2</text>
</g>

<g fill="none" stroke="#fcb72b" stroke-linecap="round" stroke-linejoin="round">
<path d="M181,396.5 C180.5,389 171.5,384 169.6,371 C168.6,361 177,355.2 187.2,355.2 C198,355.2 206.4,361.5 205.5,371 C204.5,382 199.5,387 199.2,396.5" stroke-width="2.4"/>
<path d="M187.2,394.6 C186,386 181.5,379 182,372 L182.4,368.4 L186.4,369.8 L189.6,367.6 L192,369.4 L194,366 C195,373 192,384 189.6,393" stroke-width="1.7"/>
<path d="M182.6,369.4 L186.4,370.6 L189.6,368.6 L192,370.2 L193.8,367.6" stroke-width="2.2"/>
<path d="M192.4,361.2 C197,362.5 198.4,367 197.5,372 C196.5,378 194.2,382 193,385.5" stroke-width="1.5"/>
<path d="M182.2,400.2 Q190.5,402.8 198.8,398.8" stroke-width="2.6"/>
<path d="M183,404.6 Q190.8,407 198.4,403.6" stroke-width="2.4"/>
<path d="M184,408.6 Q191,410.8 197.8,407.8" stroke-width="2.4"/>
<path d="M187.3,338.5 L187.5,346.5 M164.8,346.2 L170.2,352.4 M205.2,342.2 L201.4,349.5 M153.8,359.6 L162.8,361.8 M153.8,378.3 L162.8,376.6 M217.2,355.4 L208.8,359.6 M211,371.8 L220,374" stroke-width="1.7"/>
<path d="M175.2,385.5 L177.5,390.5 M203.5,382.5 L201.2,388.5" stroke-width="1.5"/>
</g>
<path d="M185,411.2 Q191,412.6 197.6,410.4 Q196,415.5 191.2,417.2 Q187,415.8 185,411.2 Z" fill="#fcb72b"/>

<g id="logo">
<path d="M662,466.5 C676,452 704,447.5 727,448 C760,449 788,458 789.7,470 C790.3,475 786,481 781,484.5 C785,479 786.5,474 784,469 C778,459 752,452.5 724,451.5 C700,451 678,456 662,466.5 Z" fill="#55566a"/>
<path d="M662,466.5 C676,452 704,447.5 727,448 C760,449 788,458 789.7,470" fill="none" stroke="#7d9bea" stroke-width="1.3"/>
<g font-family="Liberation Serif,serif" fill="#4a4a58" font-weight="bold">
<text y="482.5"><tspan x="681.2" font-size="29.8px" textLength="7.6" lengthAdjust="spacingAndGlyphs">R</tspan><tspan x="689.9" font-size="24px" textLength="36.7" lengthAdjust="spacingAndGlyphs">eunião</tspan><tspan font-size="4px"> </tspan><tspan x="729.3" font-size="15.5px" textLength="10.3" lengthAdjust="spacingAndGlyphs">em</tspan><tspan font-size="4px"> </tspan><tspan x="743.8" font-size="29.8px" textLength="8.2" lengthAdjust="spacingAndGlyphs">P</tspan><tspan x="753" font-size="24px" textLength="23" lengthAdjust="spacingAndGlyphs">auta</tspan></text>
</g>
</g>

</svg>
</body>
</html>
